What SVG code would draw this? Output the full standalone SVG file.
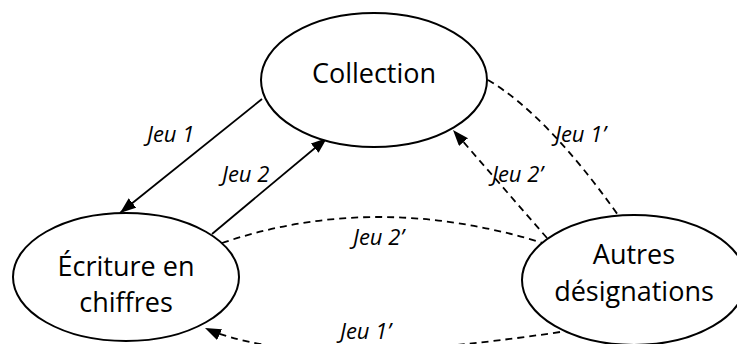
<svg xmlns="http://www.w3.org/2000/svg" width="737" height="344" viewBox="0 0 737 344">
<style>
.node ellipse{fill:#fff;stroke:#000;stroke-width:2}
.node text{font-family:"Open Sans","Noto Sans",sans-serif;font-size:27px;fill:#000;text-anchor:middle}
.edge{fill:none;stroke:#000;stroke-width:1.8}
.dash{stroke-dasharray:7 5}
.lbl{font-family:"Open Sans","Noto Sans",sans-serif;font-style:italic;font-size:22px;fill:#000}
</style>
<defs>
<marker id="arr" markerUnits="userSpaceOnUse" markerWidth="18" markerHeight="14" refX="16" refY="6" orient="auto">
<path d="M0,0 L16,6 L0,12 z" fill="#000"/>
</marker>
</defs>
<rect width="737" height="344" fill="#fff"/>
<g id="connectors">
<path class="edge" d="M262,99 L120,213" marker-end="url(#arr)"/>
<path class="edge" d="M212,234 L327,138" marker-end="url(#arr)"/>
<path class="edge dash" d="M488,80 Q547,115 618,215"/>
<path class="edge dash" d="M547,238 L453,130" marker-end="url(#arr)"/>
<path class="edge dash" d="M222,243 Q375,191 543,243"/>
<path class="edge dash" d="M560,332 Q300,371 205,328" marker-end="url(#arr)"/>
<text class="lbl" x="147" y="142">Jeu 1</text>
<text class="lbl" x="222" y="182">Jeu 2</text>
<text class="lbl" x="555" y="142">Jeu 1’</text>
<text class="lbl" x="492" y="182">Jeu 2’</text>
<text class="lbl" x="353" y="245">Jeu 2’</text>
<text class="lbl" x="340" y="339">Jeu 1’</text>
</g>
<g id="collection" class="node">
<ellipse cx="374" cy="80" rx="113" ry="67"/>
<text x="374" y="83">Collection</text>
</g>
<g id="ecriture" class="node">
<ellipse cx="126" cy="277" rx="113" ry="64"/>
<text x="126" y="276">Écriture en</text>
<text x="126" y="312">chiffres</text>
</g>
<g id="autres" class="node">
<ellipse cx="634" cy="280" rx="112" ry="65"/>
<text x="634" y="264">Autres</text>
<text x="634" y="301">désignations</text>
</g>
</svg>
